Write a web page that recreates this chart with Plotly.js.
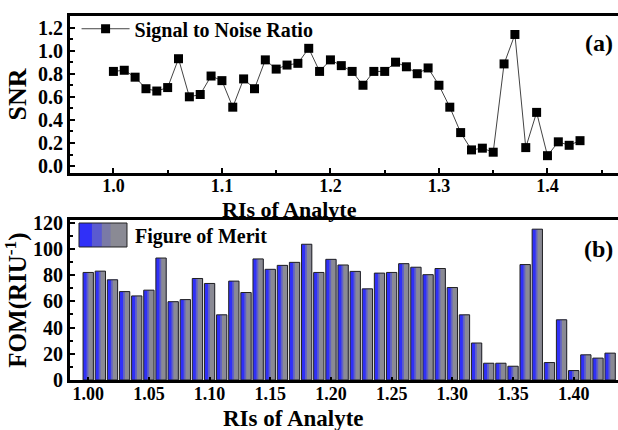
<!DOCTYPE html>
<html>
<head>
<meta charset="utf-8">
<script src="https://cdn.plot.ly/plotly-3.0.1.min.js"></script>
<style>html,body{margin:0;padding:0;background:#fff;}#chart{width:618px;height:430px;}</style>
</head>
<body>
<div id="chart"></div>
<script>
// Refractive indices of analyte (x values)
const ri = [1.00,1.01,1.02,1.03,1.04,1.05,1.06,1.07,1.08,1.09,1.10,1.11,1.12,1.13,1.14,1.15,1.16,1.17,1.18,1.19,1.20,1.21,1.22,1.23,1.24,1.25,1.26,1.27,1.28,1.29,1.30,1.31,1.32,1.33,1.34,1.35,1.36,1.37,1.38,1.39,1.40,1.41,1.42,1.43];
// Signal to Noise Ratio
const snr = [0.82,0.83,0.77,0.67,0.65,0.68,0.93,0.60,0.62,0.78,0.74,0.51,0.755,0.67,0.92,0.84,0.875,0.89,1.02,0.82,0.92,0.87,0.82,0.70,0.82,0.82,0.90,0.86,0.80,0.85,0.70,0.51,0.29,0.14,0.155,0.12,0.885,1.14,0.16,0.465,0.09,0.21,0.18,0.22];
// Figure of Merit (RIU^-1)
const fom = [82,83,76.4,67.4,64.1,68.5,93,59.7,61.3,77.4,73.6,49.7,75.4,66.7,92.3,84.4,87.4,89.7,103.5,82,92,87.7,82.8,69.5,81.5,82,88.7,86,80.3,85,70.5,49.7,28.2,12.8,12.8,10.5,88,115,13.3,45.9,7.2,19.2,16.7,20.5];
const snrTicks = [0.0,0.2,0.4,0.6,0.8,1.0,1.2];
const fomTicks = [0,20,40,60,80,100,120];

const FONT = 'Liberation Serif, Times New Roman, serif';
const BW = 0.0085;

const traces = [
  {x: ri, y: snr, xaxis: 'x', yaxis: 'y', type: 'scatter', mode: 'lines+markers',
   name: 'Signal to Noise Ratio', line: {color: '#444', width: 1},
   marker: {symbol: 'square', size: 9, color: '#000'}, showlegend: true},
  {x: ri, y: fom, xaxis: 'x2', yaxis: 'y2', type: 'bar', width: BW, offset: -BW/2,
   marker: {color: '#3030f8', line: {width: 0}}, showlegend: false, hoverinfo: 'skip'},
  {x: ri, y: fom, xaxis: 'x2', yaxis: 'y2', type: 'bar', width: BW*0.66, offset: -BW/2 + BW*0.34,
   marker: {color: '#6262c4', line: {width: 0}}, showlegend: false, hoverinfo: 'skip'},
  {x: ri, y: fom, xaxis: 'x2', yaxis: 'y2', type: 'bar', width: BW*0.48, offset: -BW/2 + BW*0.52,
   marker: {color: '#8a8a94', line: {width: 0}}, showlegend: false, hoverinfo: 'skip'},
  {x: ri, y: fom, xaxis: 'x2', yaxis: 'y2', type: 'bar', width: BW, offset: -BW/2,
   name: 'Figure of Merit',
   marker: {color: 'rgba(0,0,0,0)', line: {width: 1, color: '#222'}}, showlegend: false}
];

const axBase = {
  showline: true, linewidth: 3, linecolor: '#000', mirror: true,
  showgrid: false, zeroline: false, ticks: 'inside', ticklen: 5, tickwidth: 2, tickcolor: '#000'
};

const layout = {
  width: 618, height: 430,
  margin: {l: 70, r: 0, t: 16, b: 50},
  paper_bgcolor: '#fff', plot_bgcolor: '#fff',
  barmode: 'overlay',
  font: {family: FONT, color: '#000', weight: 'bold'},
  showlegend: true,
  legend: {x: 0.012, y: 0.965, xanchor: 'left', yanchor: 'middle', bgcolor: 'rgba(0,0,0,0)',
           font: {family: FONT, size: 20, weight: 'bold'}, itemwidth: 48},
  xaxis: Object.assign({}, axBase, {
    domain: [0, 1], anchor: 'y', range: [0.96, 1.465], dtick: 0.1, tick0: 1.0, tickformat: '.1f',
    tickfont: {family: FONT, size: 18, weight: 'bold'}, ticklabelstandoff: -6,
    minor: {dtick: 0.05, ticks: 'inside', ticklen: 3, tickcolor: '#000'}
  }),
  yaxis: Object.assign({}, axBase, {
    domain: [0.5687, 1], anchor: 'x', range: [-0.06, 1.3], tickvals: snrTicks, tickformat: '.1f',
    mirror: false,
    tickfont: {family: FONT, size: 20, weight: 'bold'},
    title: {text: 'SNR', standoff: 4, font: {family: FONT, size: 26, weight: 'bold'}},
    minor: {dtick: 0.1, ticks: 'inside', ticklen: 3, tickcolor: '#000'}
  }),
  xaxis2: Object.assign({}, axBase, {
    domain: [0, 1], anchor: 'y2', range: [0.985, 1.4365], dtick: 0.05, tick0: 1.0, tickformat: '.2f',
    ticklen: 3, ticklabelstandoff: -5,
    tickfont: {family: FONT, size: 18, weight: 'bold'}
  }),
  yaxis2: Object.assign({}, axBase, {
    domain: [0, 0.4396], anchor: 'x2', range: [0, 122], tickvals: fomTicks,
    mirror: false,
    tickfont: {family: FONT, size: 20, weight: 'bold'},
    title: {text: 'FOM(RIU<sup>-1</sup>)', standoff: 2, font: {family: FONT, size: 25, weight: 'bold'}},
    minor: {dtick: 10, ticks: 'inside', ticklen: 3, tickcolor: '#000'}
  }),
  shapes: [
    {type: 'rect', xref: 'paper', yref: 'paper', x0: 0.0164, x1: 0.104, y0: 0.3654, y1: 0.4313,
     fillcolor: '#3030f8', line: {width: 0}},
    {type: 'rect', xref: 'paper', yref: 'paper', x0: 0.040, x1: 0.104, y0: 0.3654, y1: 0.4313,
     fillcolor: '#5a5ad0', line: {width: 0}},
    {type: 'rect', xref: 'paper', yref: 'paper', x0: 0.058, x1: 0.104, y0: 0.3654, y1: 0.4313,
     fillcolor: '#7a7aa6', line: {width: 0}},
    {type: 'rect', xref: 'paper', yref: 'paper', x0: 0.074, x1: 0.104, y0: 0.3654, y1: 0.4313,
     fillcolor: '#8a8a94', line: {width: 0}},
    {type: 'rect', xref: 'paper', yref: 'paper', x0: 0.0164, x1: 0.104, y0: 0.3654, y1: 0.4313,
     fillcolor: 'rgba(0,0,0,0)', line: {width: 1, color: '#222'}}
  ],
  annotations: [
    {text: 'RIs of Analyte', xref: 'paper', yref: 'paper', x: 0.40, y: 0.469, xanchor: 'center', yanchor: 'middle',
     showarrow: false, font: {family: FONT, size: 22, weight: 'bold'}},
    {text: 'RIs of Analyte', xref: 'paper', yref: 'paper', x: 0.407, y: -0.106, xanchor: 'center', yanchor: 'middle',
     showarrow: false, font: {family: FONT, size: 23, weight: 'bold'}},
    {text: 'Figure of Merit', xref: 'paper', yref: 'paper', x: 0.115, y: 0.3929, xanchor: 'left', yanchor: 'middle',
     showarrow: false, font: {family: FONT, size: 20, weight: 'bold'}},
    {text: '(a)', xref: 'paper', yref: 'paper', x: 0.965, y: 0.926, xanchor: 'center', yanchor: 'middle',
     showarrow: false, font: {family: FONT, size: 24, weight: 'bold'}},
    {text: '(b)', xref: 'paper', yref: 'paper', x: 0.964, y: 0.360, xanchor: 'center', yanchor: 'middle',
     showarrow: false, font: {family: FONT, size: 24, weight: 'bold'}}
  ]
};

Plotly.newPlot('chart', traces, layout, {staticPlot: true, displayModeBar: false});
</script>
</body>
</html>
